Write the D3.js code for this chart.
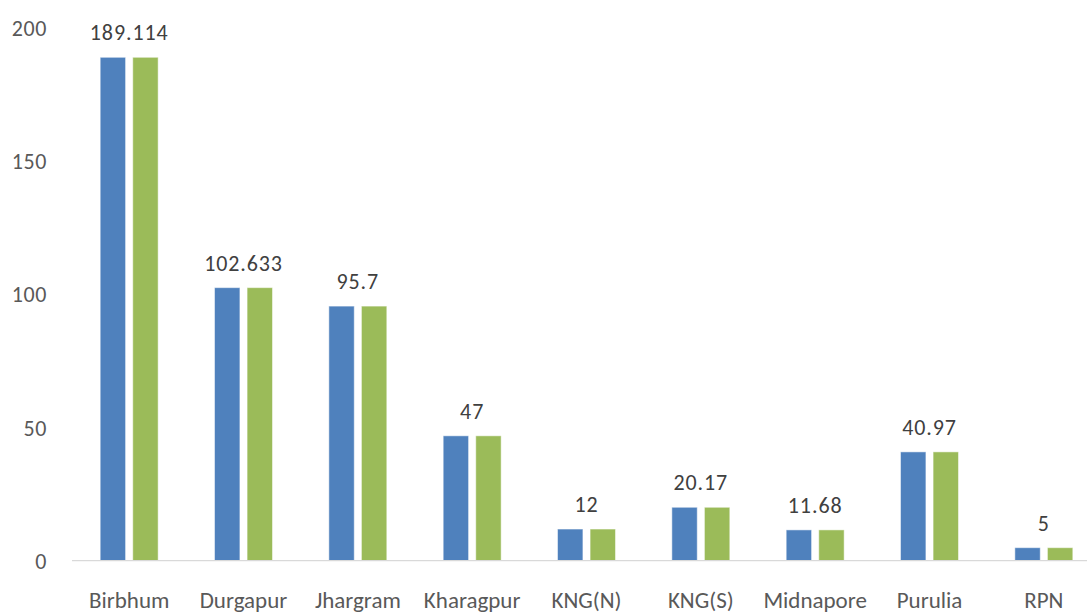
<!DOCTYPE html>
<html>
<head>
<meta charset="utf-8">
<script src="https://cdn.jsdelivr.net/npm/d3@7"></script>
<style>
  body { margin: 0; background: #fff; }
  text { font-family: Carlito, Lato, "Open Sans", sans-serif; fill: #595959; }
</style>
</head>
<body>
<div id="chart"></div>
<script>
const categories = ["Birbhum", "Durgapur", "Jhargram", "Kharagpur", "KNG(N)", "KNG(S)", "Midnapore", "Purulia", "RPN"]
const seriesA = [189.114, 102.633, 95.7, 47, 12, 20.17, 11.68, 40.97, 5]
const seriesB = [189.114, 102.633, 95.7, 47, 12, 20.17, 11.68, 40.97, 5]
const yTicks = [0, 50, 100, 150, 200]
const seriesColors = ["#4f81bd", "#9bbb59"]

const width = 1087, height = 613

const svg = d3.select("#chart").append("svg")
    .attr("width", width)
    .attr("height", height)

// plot runs a little past the right edge, like the original crop
const x0 = d3.scaleBand()
    .domain(categories)
    .range([72, 1101])
    .paddingInner(0.493)
    .paddingOuter(0.2465)

const x1 = d3.scaleBand()
    .domain([0, 1])
    .range([0, x0.bandwidth()])
    .paddingInner(0.22)

const y = d3.scaleLinear()
    .domain([0, 200])
    .range([561, 28.3])

// y tick labels (no axis line, no gridlines)
svg.append("g")
    .selectAll("text")
    .data(yTicks)
    .join("text")
    .attr("x", 47)
    .attr("y", d => y(d))
    .attr("dy", "0.35em")
    .attr("text-anchor", "end")
    .style("font-size", "22px")
    .style("letter-spacing", "0.6px")
    .text(d => d)

const rows = categories.map((c, i) => ({cat: c, vals: [seriesA[i], seriesB[i]]}))

const groups = svg.append("g")
    .selectAll("g")
    .data(rows)
    .join("g")
    .attr("transform", d => "translate(" + x0(d.cat) + ",0)")

groups.selectAll("rect")
    .data(d => d.vals.map((v, k) => ({k: k, v: v})))
    .join("rect")
    .attr("x", d => x1(d.k))
    .attr("width", x1.bandwidth())
    .attr("y", d => y(d.v))
    .attr("height", d => y(0) - y(d.v))
    .attr("fill", d => seriesColors[d.k])
    .attr("stroke", "#ffffff")
    .attr("stroke-opacity", 0.5)
    .attr("stroke-width", 1)

// value labels centred over each category
groups.append("text")
    .attr("x", x0.bandwidth() / 2)
    .attr("y", d => y(d.vals[0]) - 17)
    .attr("text-anchor", "middle")
    .style("font-size", "22px")
    .style("letter-spacing", "0.9px")
    .style("fill", "#404040")
    .text(d => d.vals[0])

// x axis baseline
svg.append("line")
    .attr("x1", 72).attr("x2", width)
    .attr("y1", 560.7).attr("y2", 560.7)
    .attr("stroke", "#d9d9d9")
    .attr("stroke-width", 1.3)

svg.append("g")
    .selectAll("text")
    .data(categories)
    .join("text")
    .attr("x", d => x0(d) + x0.bandwidth() / 2)
    .attr("y", 608)
    .attr("text-anchor", "middle")
    .style("font-size", "23px")
    .text(d => d)
</script>
</body>
</html>
